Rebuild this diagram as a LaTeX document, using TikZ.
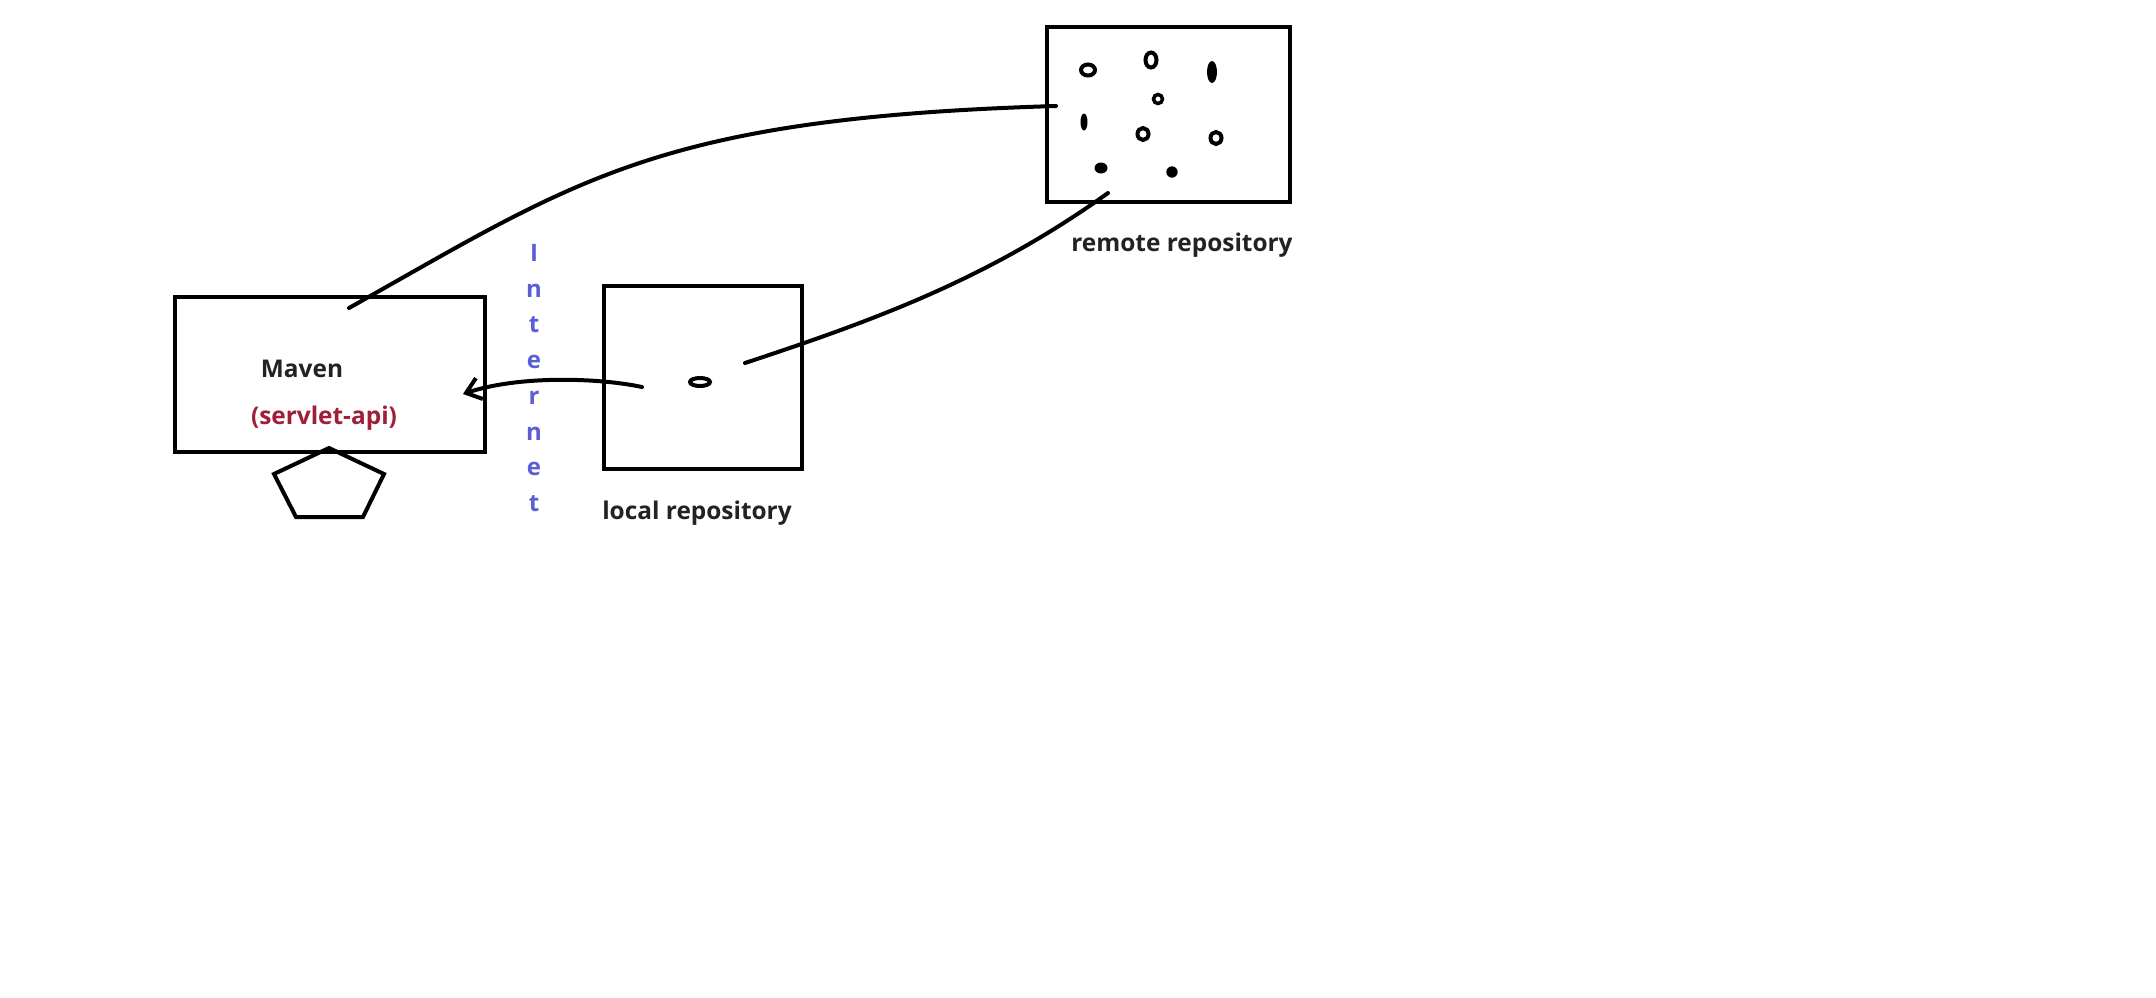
\documentclass[tikz,border=0pt]{standalone}
\usepackage{fontspec}
\setmainfont{Open Sans}
\usetikzlibrary{arrows.meta}
\definecolor{apired}{HTML}{9E1F37}
\definecolor{netblue}{HTML}{5B5FD6}
\definecolor{txtgray}{HTML}{222222}
\begin{document}
\begin{tikzpicture}[x=1pt,y=-1pt,
  repobox/.style={draw=black,line width=4pt,inner sep=0pt},
  lbl/.style={font=\fontsize{24.4}{28}\selectfont\bfseries,text=txtgray,inner sep=0pt},
  link/.style={draw=black,line width=4pt,line cap=round},
  ring/.style={draw=black,line width=4pt},
  blob/.style={fill=black}]
\fill[white] (0,0) rectangle (2156,997);
\useasboundingbox (0,0) rectangle (2156,997);

% boxes
\node[repobox,minimum width=310pt,minimum height=155pt] (maven) at (330,374.5) {};
\node[repobox,minimum width=198pt,minimum height=183pt] (local) at (703,377.5) {};
\node[repobox,minimum width=243pt,minimum height=175pt] (remote) at (1168.5,114) {};

% texts
\node[lbl] (mavenlbl) at (302,369) {Maven};
\node[lbl,text=apired] (api) at (324,418) {(servlet-api)};
\node[lbl] (locallbl) at (697,513) {local repository};
\node[lbl] (remotelbl) at (1182,245) {remote repository};
\node[lbl,text=netblue,align=center,font=\fontsize{24}{35.7}\selectfont\bfseries] (net) at (534,378)
  {I\\n\\t\\e\\r\\n\\e\\t};

% pentagon under Maven
\draw[line width=4pt,line join=miter] (329,448) -- (384,474) -- (363,517) -- (296,517) -- (274,474) -- cycle;

% dot in local repository
\draw[ring] (700,382) ellipse [x radius=10pt,y radius=4pt];

% dots in remote repository
\draw[ring] (1088,70) ellipse [x radius=7pt,y radius=5.5pt];
\draw[ring] (1151,60) ellipse [x radius=5.5pt,y radius=7.5pt];
\fill[blob] (1212,72) ellipse [x radius=5pt,y radius=11pt];
\draw[ring,line width=3.5pt] (1158,99) circle [radius=4.5pt];
\fill[blob] (1084,122) ellipse [x radius=3.5pt,y radius=8.5pt];
\draw[ring] (1143,134) ellipse [x radius=5.5pt,y radius=6pt];
\draw[ring] (1216,138) ellipse [x radius=5.5pt,y radius=6pt];
\fill[blob] (1101,168) ellipse [x radius=6.5pt,y radius=5.5pt];
\fill[blob] (1172,172) circle [radius=5.7pt];

% connector end points
\coordinate (remoteL) at (1056,106);
\coordinate (remoteB) at (1108,193);
\coordinate (mavenT) at (349,308);
\coordinate (mavenR) at (463,394);
\coordinate (localL) at (642,387);
\coordinate (localR) at (745,363);

% connectors
\draw[link] (remoteL) .. controls (656,118) and (577,180) .. (mavenT);
\draw[link] (remoteB) .. controls (988,279) and (875,320) .. (localR);
\draw[link,-{Straight Barb[length=14pt,width=22pt]}] (localL) .. controls (600,378) and (520,375) .. (mavenR);
\end{tikzpicture}
\end{document}
